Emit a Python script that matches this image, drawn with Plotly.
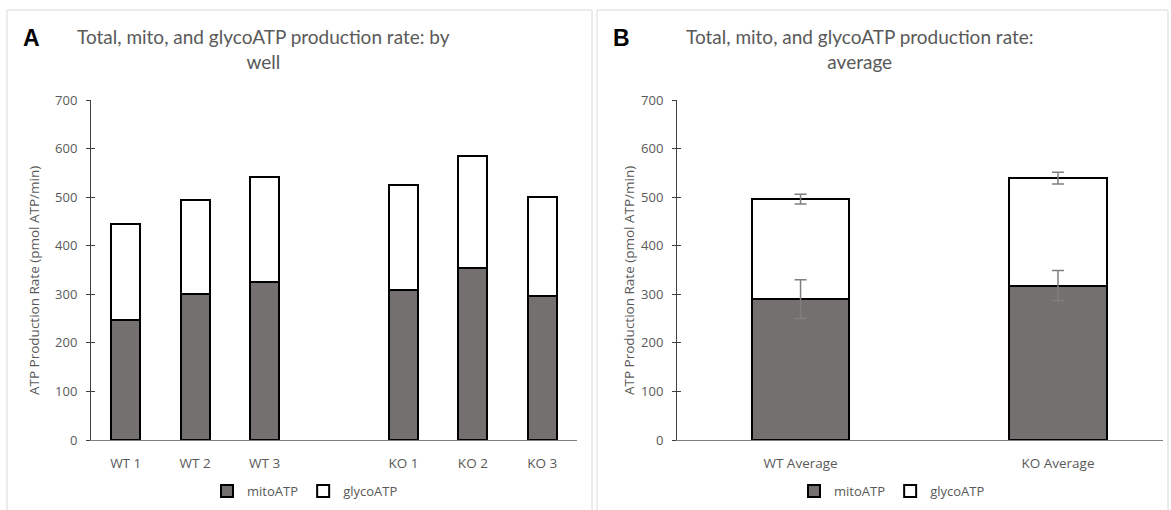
import plotly.graph_objects as go

# ---- data ----
wells = ["WT 1", "WT 2", "WT 3", "KO 1", "KO 2", "KO 3"]
spacer = " "
mito_well = [247, 300, 326, 309, 355, 296]
glyco_well = [198, 194, 215, 216, 230, 205]

groups = ["WT Average", "KO Average"]
mito_avg = [290, 318]
glyco_avg = [206, 221]
total_avg = [m + g for m, g in zip(mito_avg, glyco_avg)]
mito_err = [40, 31]
total_err = [10, 12]

y_ticks = [0, 100, 200, 300, 400, 500, 600, 700]

title_a = "Total, mito, and glycoATP production rate: by<br>well"
title_b = "Total, mito, and glycoATP production rate:<br>average"
y_title = "ATP Production Rate (pmol ATP/min)"

# ---- styles ----
W, H = 1171, 510
GRAY_TXT = "#595959"
MITO_FILL = "#747070"
FONT = "Open Sans"
TITLE_FONT = "Lato"
BAR_LINE = dict(color="black", width=2)


def px(x):
    return x / W


def py(y):
    return 1 - y / H


cat_a = wells[:3] + [spacer] + wells[3:]

fig = go.Figure()

fig.add_trace(go.Bar(x=wells, y=mito_well, name="mitoATP", xaxis="x", yaxis="y",
                     marker=dict(color=MITO_FILL, line=BAR_LINE),
                     width=0.42, legend="legend"))
fig.add_trace(go.Bar(x=wells, y=glyco_well, name="glycoATP", xaxis="x", yaxis="y",
                     marker=dict(color="white", line=BAR_LINE),
                     width=0.42, legend="legend"))

fig.add_trace(go.Bar(x=groups, y=mito_avg, name="mitoATP", xaxis="x2", yaxis="y2",
                     marker=dict(color=MITO_FILL, line=BAR_LINE),
                     width=0.38, legend="legend2"))
fig.add_trace(go.Bar(x=groups, y=glyco_avg, name="glycoATP", xaxis="x2", yaxis="y2",
                     marker=dict(color="white", line=BAR_LINE),
                     width=0.38, legend="legend2"))

# error bars drawn on top of the stacks
for yv, ev in [(mito_avg, mito_err), (total_avg, total_err)]:
    fig.add_trace(go.Scatter(x=groups, y=yv, mode="markers", xaxis="x2", yaxis="y2",
                             marker=dict(size=1, color="rgba(0,0,0,0)"),
                             showlegend=False, hoverinfo="skip",
                             error_y=dict(type="data", array=ev, color="#7f7f7f",
                                          thickness=1.5, width=6)))

yax_common = dict(range=[0, 700], tickvals=y_ticks, ticks="outside", ticklen=4,
                  tickcolor="#404040", showline=True, linecolor="#404040", linewidth=1,
                  showgrid=False, zeroline=False, automargin=False,
                  tickfont=dict(family=FONT, size=13, color=GRAY_TXT),
                  ticklabelstandoff=6)
xax_common = dict(type="category", showline=True, linecolor="#7f7f7f", linewidth=1,
                  ticks="", showgrid=False, zeroline=False, automargin=False,
                  tickfont=dict(family=FONT, size=13.5, color=GRAY_TXT),
                  ticklabelstandoff=11)
ovl_common = dict(range=[0, 700], tickvals=y_ticks, ticks="inside", ticklen=4,
                  tickcolor="#404040", showticklabels=False, showline=False,
                  showgrid=False, zeroline=False, side="left", automargin=False)

fig.update_layout(
    width=W, height=H, margin=dict(l=0, r=0, t=0, b=0, autoexpand=False),
    paper_bgcolor="white", plot_bgcolor="white",
    barmode="stack",
    xaxis=dict(domain=[px(91), px(577)], anchor="y", categoryorder="array",
               categoryarray=cat_a, range=[-0.5, 6.5], **xax_common),
    yaxis=dict(domain=[py(440), py(100)], anchor="x", **yax_common),
    yaxis3=dict(overlaying="y", anchor="x", **ovl_common),
    xaxis2=dict(domain=[px(677), px(1163)], anchor="y2", categoryorder="array",
                categoryarray=groups, range=[-0.48, 1.408], **xax_common),
    yaxis2=dict(domain=[py(440), py(100)], anchor="x2", **yax_common),
    yaxis4=dict(overlaying="y2", anchor="x2", **ovl_common),
    legend=dict(orientation="h", x=px(305), xanchor="center", y=py(491), yanchor="middle",
                font=dict(family=FONT, size=13, color=GRAY_TXT), bgcolor="rgba(0,0,0,0)",
                itemwidth=30, traceorder="normal"),
    legend2=dict(orientation="h", x=px(892), xanchor="center", y=py(491), yanchor="middle",
                 font=dict(family=FONT, size=13, color=GRAY_TXT), bgcolor="rgba(0,0,0,0)",
                 itemwidth=30, traceorder="normal"),
    showlegend=True,
)

# dummy traces to activate overlay axes (tick marks crossing the axis line)
fig.add_trace(go.Scatter(x=[None], y=[None], xaxis="x", yaxis="y3", showlegend=False,
                         hoverinfo="skip"))
fig.add_trace(go.Scatter(x=[None], y=[None], xaxis="x2", yaxis="y4", showlegend=False,
                         hoverinfo="skip"))

# panel frames
for x0, x1 in [(7, 592), (597, 1168)]:
    fig.add_shape(type="rect", xref="paper", yref="paper",
                  x0=px(x0), x1=px(x1), y0=py(520), y1=py(10),
                  line=dict(color="#d9d9d9", width=1), fillcolor="rgba(0,0,0,0)",
                  layer="below")

# titles and panel letters
fig.add_annotation(text=title_a, xref="paper", yref="paper", x=px(263), y=py(49),
                   showarrow=False, xanchor="center", yanchor="middle",
                   font=dict(family=TITLE_FONT, size=19, color=GRAY_TXT))
fig.add_annotation(text=title_b, xref="paper", yref="paper", x=px(860), y=py(49),
                   showarrow=False, xanchor="center", yanchor="middle",
                   font=dict(family=TITLE_FONT, size=19, color=GRAY_TXT))
fig.add_annotation(text="<b>A</b>", xref="paper", yref="paper", x=px(31), y=py(38),
                   showarrow=False, xanchor="center", yanchor="middle",
                   font=dict(family="Liberation Sans", size=23, color="black"))
fig.add_annotation(text="<b>B</b>", xref="paper", yref="paper", x=px(621), y=py(38),
                   showarrow=False, xanchor="center", yanchor="middle",
                   font=dict(family="Liberation Sans", size=23, color="black"))

# y axis titles
for xc in (34, 629):
    fig.add_annotation(text=y_title, xref="paper", yref="paper", x=px(xc), y=py(281),
                       showarrow=False, textangle=-90, xanchor="center", yanchor="middle",
                       font=dict(family=FONT, size=13.5, color=GRAY_TXT))

fig.write_html("out.html", config={"displayModeBar": False},
               post_script="document.body.style.margin='0';document.body.style.overflow='hidden';")
